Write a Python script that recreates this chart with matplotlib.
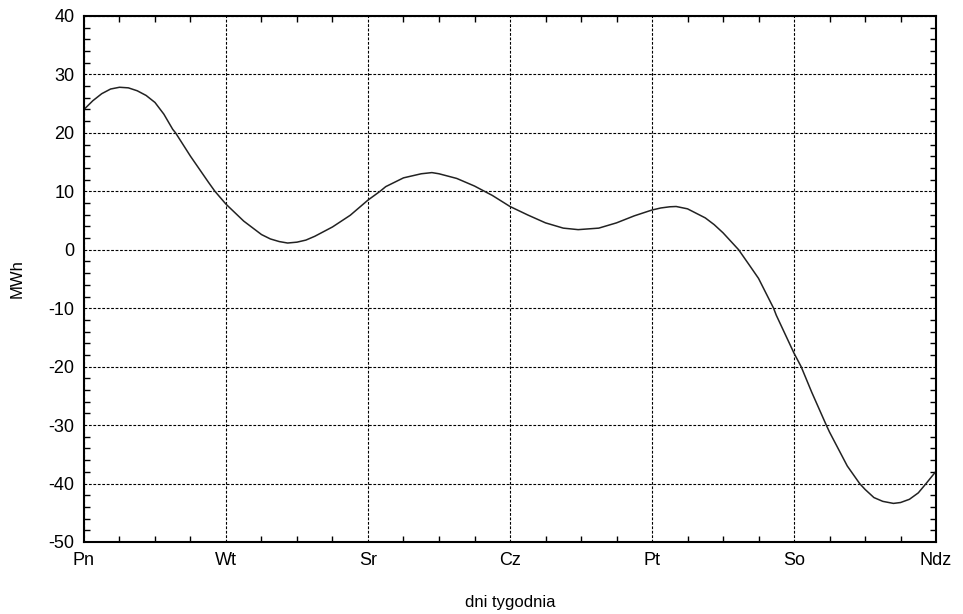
import matplotlib
matplotlib.use("Agg")
import matplotlib.pyplot as plt
from matplotlib.ticker import MultipleLocator

plt.rcParams["font.family"] = ["Liberation Sans", "DejaVu Sans"]
plt.rcParams["axes.unicode_minus"] = False

# day of week position (0 = Pn ... 6 = Ndz) and load deviation in MWh
# (regular readings plus the peaks, troughs and gridline crossings)
day_pos = [0.0, 0.0625, 0.125, 0.1875, 0.25, 0.3125, 0.375, 0.4375, 0.5, 0.5625,
           0.625, 0.645, 0.75, 0.875, 0.922,
           1.0, 1.125, 1.25, 1.3125, 1.375, 1.434, 1.5, 1.5625, 1.625, 1.75, 1.875,
           2.0, 2.085, 2.125, 2.25, 2.375, 2.45, 2.5, 2.625, 2.75, 2.82, 2.875,
           3.0, 3.125, 3.25, 3.375, 3.48, 3.625, 3.75, 3.875,
           4.0, 4.0625, 4.125, 4.17, 4.25, 4.375, 4.4375, 4.5, 4.61, 4.6875, 4.75,
           4.856, 4.875,
           5.0, 5.05, 5.125, 5.227, 5.25, 5.375, 5.462, 5.5, 5.5625, 5.625, 5.70,
           5.75, 5.8125, 5.875, 5.93, 6.0]
mwh = [24.0, 25.5, 26.7, 27.5, 27.8, 27.7, 27.2, 26.4, 25.2, 23.2,
       20.6, 20.0, 16.0, 11.6, 10.0,
       7.8, 4.9, 2.6, 1.85, 1.4, 1.15, 1.3, 1.65, 2.3, 3.9, 5.9,
       8.5, 10.0, 10.8, 12.3, 13.0, 13.2, 13.0, 12.2, 10.9, 10.0, 9.3,
       7.4, 5.95, 4.6, 3.7, 3.44, 3.7, 4.6, 5.8,
       6.8, 7.15, 7.35, 7.4, 7.0, 5.45, 4.3, 2.9, 0.0, -2.7, -4.9,
       -10.0, -11.2,
       -17.7, -20.0, -24.4, -30.0, -31.2, -37.0, -40.0, -41.0, -42.4, -43.05, -43.4,
       -43.25, -42.7, -41.6, -40.0, -37.9]

day_labels = ["Pn", "Wt", "Sr", "Cz", "Pt", "So", "Ndz"]
y_ticks = [-50, -40, -30, -20, -10, 0, 10, 20, 30, 40]

fig = plt.figure(figsize=(9.63, 6.14), dpi=100)
ax = fig.add_axes([0.0872, 0.1173, 0.8848, 0.8567])

ax.plot(day_pos, mwh, color="#222222", linewidth=1.1, zorder=3,
        solid_joinstyle="round", solid_capstyle="round")

ax.set_xlim(0, 6)
ax.set_ylim(-50, 40)
ax.set_xticks(range(len(day_labels)))
ax.set_xticklabels(day_labels)
ax.set_yticks(y_ticks)
ax.xaxis.set_minor_locator(MultipleLocator(0.25))
ax.yaxis.set_minor_locator(MultipleLocator(2))

ax.tick_params(axis="both", which="both", direction="in",
               top=True, right=True, labelsize=13, color="black")
ax.tick_params(which="major", length=0, pad=7)
ax.tick_params(which="minor", length=4, width=1)

ax.grid(True, which="major", color="black", linewidth=0.8,
        linestyle=(0, (2.5, 1.5)))

for side in ax.spines.values():
    side.set_linewidth(1.5)
    side.set_zorder(4)

ax.set_xlabel("dni tygodnia", fontsize=12, labelpad=19)
ax.set_ylabel("MWh", fontsize=12, labelpad=17)

fig.savefig("out.png", dpi=100)
